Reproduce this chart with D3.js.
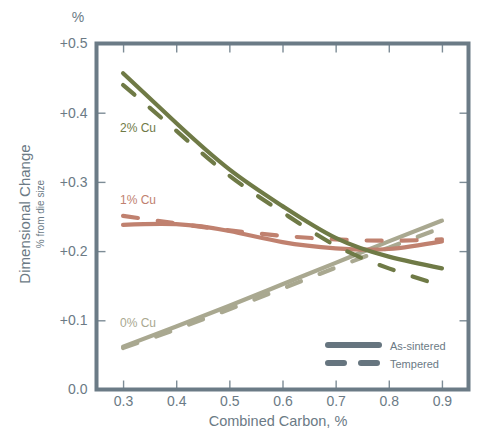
<!DOCTYPE html>
<html><head><meta charset="utf-8">
<script src="https://cdn.jsdelivr.net/npm/d3@7"></script>
<style>
body{margin:0;background:#fff;}
svg{display:block;font-family:"Liberation Sans",Arial,sans-serif;}
</style></head>
<body><svg id="c" width="477" height="431"></svg>
<script>
const carbon = [0.3, 0.4, 0.5, 0.6, 0.7, 0.8, 0.9];
const cu2Sintered = [0.457, 0.385, 0.318, 0.265, 0.219, 0.192, 0.175];
const cu2Tempered = [0.440, 0.374, 0.309, 0.256, 0.208, 0.175, 0.150];
const cu1Sintered = [0.238, 0.239, 0.229, 0.213, 0.204, 0.203, 0.214];
const cu1Tempered = [0.251, 0.240, 0.230, 0.222, 0.217, 0.215, 0.217];
const cu0Sintered = [0.062, 0.091, 0.121, 0.152, 0.183, 0.214, 0.244];
const cu0Tempered = [0.060, 0.087, 0.116, 0.146, 0.176, 0.205, 0.234];
const xTicks = [0.3, 0.4, 0.5, 0.6, 0.7, 0.8, 0.9];
const yTicks = [0, 0.1, 0.2, 0.3, 0.4, 0.5];
const yTickLabels = ["0.0", "+0.1", "+0.2", "+0.3", "+0.4", "+0.5"];
const seriesNames = ["2% Cu", "1% Cu", "0% Cu"];
const legendNames = ["As-sintered", "Tempered"];

const axisCol = "#6b7b86", textCol = "#6b7a85";
const cols = {"2% Cu": "#6f7a46", "1% Cu": "#c0816f", "0% Cu": "#a9a890"};

const svg = d3.select("#c");
const x = d3.scaleLinear().domain([0.25, 0.95]).range([96.5, 468.5]);
const y = d3.scaleLinear().domain([0, 0.5]).range([389.5, 43.5]);

const series = [
  {name: "0% Cu", vals: cu0Sintered, dash: false},
  {name: "0% Cu", vals: cu0Tempered, dash: true},
  {name: "1% Cu", vals: cu1Sintered, dash: false},
  {name: "1% Cu", vals: cu1Tempered, dash: true},
  {name: "2% Cu", vals: cu2Sintered, dash: false},
  {name: "2% Cu", vals: cu2Tempered, dash: true}
];
const line = d3.line().x(d => x(d[0])).y(d => y(d[1])).curve(d3.curveNatural);
series.forEach(s => {
  svg.append("path").datum(carbon.map((c, i) => [c, s.vals[i]]))
    .attr("d", line).attr("fill", "none").attr("stroke", cols[s.name])
    .attr("stroke-width", 4.2).attr("stroke-linecap", "round")
    .attr("stroke-dasharray", s.dash ? "15,20" : null);
});

// axes with inward ticks
const tickStyle = g => {
  g.select(".domain").remove();
  g.selectAll(".tick line").attr("stroke", "#7d8c96").attr("stroke-width", 1.4);
  g.selectAll("text").attr("fill", textCol).attr("font-size", 14);
};
svg.append("g").attr("transform", `translate(0,${y(0)})`)
  .call(d3.axisBottom(x).tickValues(xTicks).tickSize(-9).tickPadding(7).tickFormat(d3.format(".1f")))
  .call(tickStyle);
svg.append("g").attr("transform", `translate(0,${y(0.5)})`)
  .call(d3.axisTop(x).tickValues(xTicks).tickSize(-9).tickFormat(""))
  .call(tickStyle);
svg.append("g").attr("transform", `translate(${x(0.25)},0)`)
  .call(d3.axisLeft(y).tickValues(yTicks).tickSize(-9).tickPadding(9).tickFormat((d, i) => yTickLabels[i]))
  .call(tickStyle)
  .call(g => g.selectAll(".tick").filter(d => d === 0 || d === 0.5).select("line").remove());
svg.append("g").attr("transform", `translate(${x(0.95)},0)`)
  .call(d3.axisRight(y).tickValues(yTicks.slice(1, 5)).tickSize(-9).tickFormat(""))
  .call(tickStyle);

// frame
svg.append("rect").attr("x", x(0.25)).attr("y", y(0.5))
  .attr("width", x(0.95) - x(0.25)).attr("height", y(0) - y(0.5))
  .attr("fill", "none").attr("stroke", axisCol).attr("stroke-width", 4);

// titles
svg.append("text").attr("x", 78).attr("y", 22).attr("text-anchor", "middle")
  .attr("fill", textCol).attr("font-size", 14).text("%");
svg.append("text").attr("x", 278).attr("y", 426).attr("text-anchor", "middle")
  .attr("fill", textCol).attr("font-size", 14.5).text("Combined Carbon, %");
svg.append("text").attr("transform", "translate(30,214) rotate(-90)").attr("text-anchor", "middle")
  .attr("fill", textCol).attr("font-size", 15).text("Dimensional Change");
svg.append("text").attr("transform", "translate(44,214) rotate(-90)").attr("text-anchor", "middle")
  .attr("fill", textCol).attr("font-size", 10).text("% from die size");

// series labels
const labY = {"2% Cu": 0.372, "1% Cu": 0.268, "0% Cu": 0.090};
seriesNames.forEach(n => {
  svg.append("text").attr("x", 120).attr("y", y(labY[n])).attr("fill", cols[n])
    .attr("font-size", 12).text(n);
});

// legend
const lg = svg.append("g");
lg.append("line").attr("x1", 328).attr("x2", 379).attr("y1", 345).attr("y2", 345)
  .attr("stroke", "#66757f").attr("stroke-width", 6).attr("stroke-linecap", "round");
lg.append("line").attr("x1", 328).attr("x2", 379).attr("y1", 363).attr("y2", 363)
  .attr("stroke", "#66757f").attr("stroke-width", 6).attr("stroke-linecap", "round")
  .attr("stroke-dasharray", "16,17");
legendNames.forEach((n, i) => {
  lg.append("text").attr("x", 390).attr("y", 349.5 + i * 18).attr("fill", textCol)
    .attr("font-size", 11).text(n);
});
</script></body></html>
